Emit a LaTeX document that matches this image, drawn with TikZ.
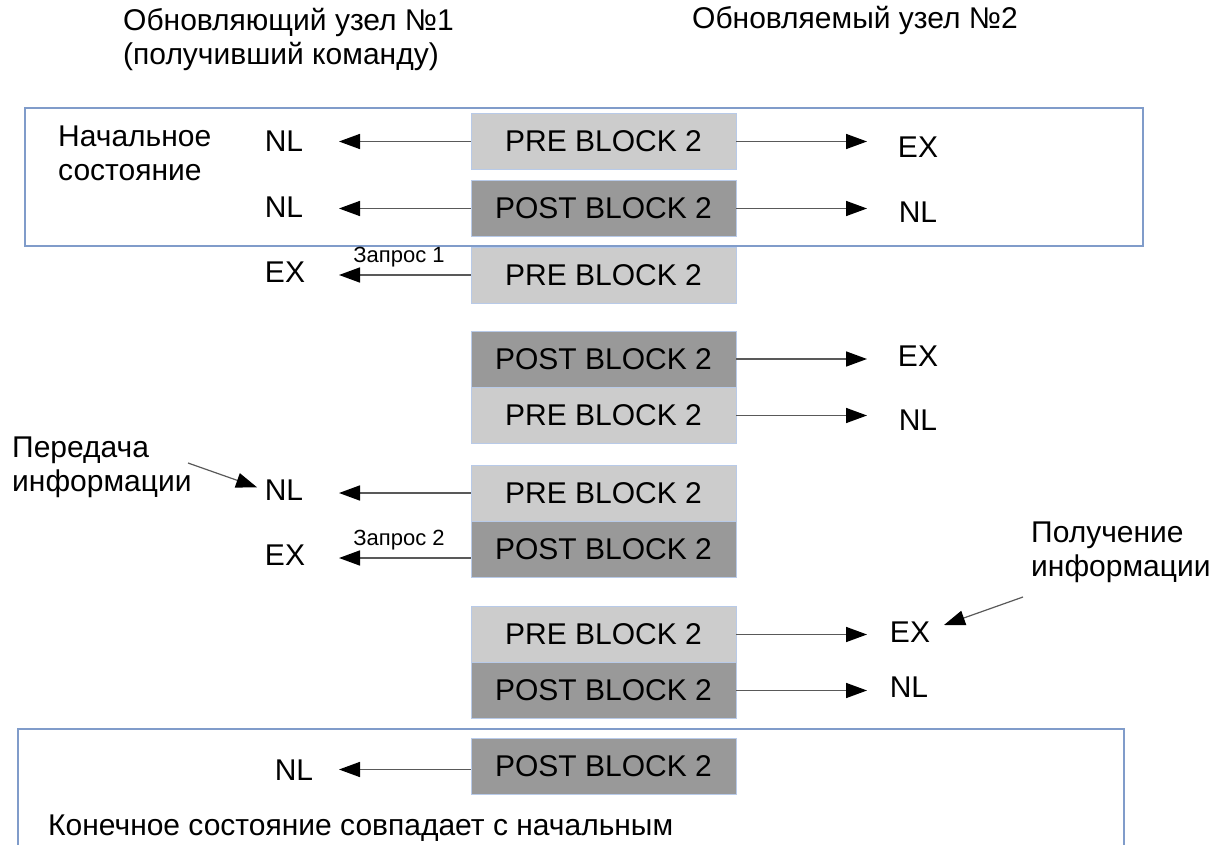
\documentclass[tikz,border=0pt]{standalone}
\usepackage{fontspec}
\setmainfont{Liberation Sans}
\usetikzlibrary{arrows.meta,calc}
\definecolor{boxline}{RGB}{128,156,202}
\definecolor{blkline}{RGB}{184,202,232}
\definecolor{prefill}{RGB}{204,204,204}
\definecolor{postfill}{RGB}{153,153,153}
\begin{document}
\begin{tikzpicture}[x=1pt,y=-1pt,
  every node/.style={font=\fontsize{30}{34}\selectfont, inner sep=0pt},
  blk/.style={draw=blkline, line width=0.8pt, minimum width=265pt, minimum height=56pt},
  preblk/.style={blk, fill=prefill},
  postblk/.style={blk, fill=postfill},
  small/.style={font=\fontsize{22}{26}\selectfont},
  arr/.style={draw=black!65, line width=1.6pt, -{Triangle[length=21pt,width=15pt,color=black]}},
  frame/.style={draw=boxline, line width=1.5pt}
]
\useasboundingbox (0,0) rectangle (1224,845);
% frames
\draw[frame] (25,108) rectangle (1143,246);
\draw[frame] (1124,860) -- (1124,729) -- (18,729) -- (18,860);
% headers
\node[align=left, anchor=north west] (h1) at (123,8) {Обновляющий узел №1\\(получивший команду)};
\node[anchor=north west] (h2) at (692,6) {Обновляемый узел №2};
% arrow end coordinates
\coordinate (tl) at (339,0);
\coordinate (tr) at (867,0);
% blocks
\node[preblk]  (b1)  at (603.5,141.5) {PRE BLOCK 2};
\node[postblk] (b2)  at (603.5,208.5) {POST BLOCK 2};
\node[preblk]  (b3)  at (603.5,275)   {PRE BLOCK 2};
\node[postblk] (b4)  at (603.5,359)   {POST BLOCK 2};
\node[preblk]  (b5)  at (603.5,415.5) {PRE BLOCK 2};
\node[preblk]  (b6)  at (603.5,493)   {PRE BLOCK 2};
\node[postblk] (b7)  at (603.5,549)   {POST BLOCK 2};
\node[preblk]  (b8)  at (603.5,634.5) {PRE BLOCK 2};
\node[postblk] (b9)  at (603.5,690.5) {POST BLOCK 2};
\node[postblk] (b10) at (603.5,766.5) {POST BLOCK 2};
% state texts
\node[align=left, anchor=west] (ns) at (58,153) {Начальное\\состояние};
\node[anchor=west] (ks) at (48,828) {Конечное состояние совпадает с начальным};
% left labels
\node (l1) at (284,141) {NL};
\node (l2) at (284,207) {NL};
\node (l3) at (285,272) {EX};
\node (l6) at (284,490) {NL};
\node (l7) at (285,555) {EX};
\node (l10) at (294,770) {NL};
% right labels
\node (r1) at (918,147) {EX};
\node (r2) at (918,212) {NL};
\node (r4) at (918,356) {EX};
\node (r5) at (918,420) {NL};
\node (r8) at (910,632) {EX};
\node (r9) at (909,687) {NL};
% left arrows
\draw[arr] (b1.west) -- (b1.west -| tl);
\draw[arr] (b2.west) -- (b2.west -| tl);
\draw[arr] (b3.west) -- (b3.west -| tl);
\draw[arr] (b6.west) -- (b6.west -| tl);
\draw[arr] ([yshift=-9pt]b7.west) -- ([yshift=-9pt]b7.west -| tl);
\draw[arr] ([yshift=-3pt]b10.west) -- ([yshift=-3pt]b10.west -| tl);
% right arrows
\draw[arr] (b1.east) -- (b1.east -| tr);
\draw[arr] (b2.east) -- (b2.east -| tr);
\draw[arr] (b4.east) -- (b4.east -| tr);
\draw[arr] (b5.east) -- (b5.east -| tr);
\draw[arr] (b8.east) -- (b8.east -| tr);
\draw[arr] (b9.east) -- (b9.east -| tr);
% request labels
\node[small] (q1) at (399,257) {Запрос 1};
\node[small] (q2) at (399,540) {Запрос 2};
% annotations
\node[align=left, anchor=west] (pd) at (12,467) {Передача\\информации};
\coordinate (pa) at (188,463);
\draw[arr, line width=1.2pt, shorten >=8pt] (pa) -- (l6.west);
\node[align=left, anchor=west] (pl) at (1031,552) {Получение\\информации};
\coordinate (pb) at (1023,597);
\coordinate (pbt) at (944,625);
\draw[arr, line width=1.2pt] (pb) -- (pbt);
\end{tikzpicture}
\end{document}
